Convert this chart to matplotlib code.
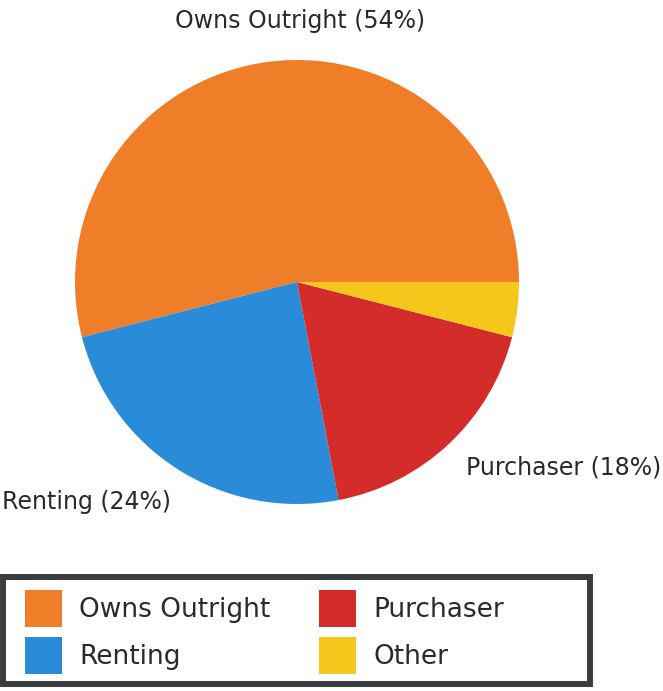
import matplotlib.pyplot as plt
from matplotlib.patches import Patch, Rectangle

# ========== DATA ========== #
categories = ["Owns Outright", "Renting", "Purchaser", "Other"]
shares = [54, 24, 18, 4]
colors = ["#F07D28", "#2A8CD8", "#D42B2B", "#F5C71A"]

# ========== FIGURE ========== #
W, H = 663, 691
fig = plt.figure(figsize=(W / 100, H / 100), dpi=100)
plt.rcParams['font.family'] = ['DejaVu Sans']

# pie centre ~ (297, 282) px, radius ~222 px
cx, cy, r = 297, 282, 222
ax = fig.add_axes([(cx - r) / W, (H - cy - r) / H, 2 * r / W, 2 * r / H])
wedges, _ = ax.pie(shares, colors=colors, startangle=0, counterclock=True,
                   wedgeprops=dict(linewidth=0))
ax.set_xlim(-1, 1)
ax.set_ylim(-1, 1)
ax.set_aspect('equal')

# slice labels (Other has none in the original)
txt_style = dict(fontsize=17, color="#2a2a2a", ha='center', va='center')
fig.text(300 / W, 1 - 21 / H, f"{categories[0]} ({shares[0]}%)", **txt_style)
fig.text(86 / W, 1 - 502 / H, f"{categories[1]} ({shares[1]}%)", **txt_style)
fig.text(564 / W, 1 - 467 / H, f"{categories[2]} ({shares[2]}%)", **txt_style)

# ========== LEGEND ========== #
handles = [Patch(facecolor=c, edgecolor='none') for c in colors]
leg = fig.legend(handles, categories, ncol=2, loc='upper left',
                 bbox_to_anchor=(25 / W, 1 - 590 / H), borderaxespad=0,
                 fontsize=19, handlelength=1.4, handleheight=1.78,
                 handletextpad=0.65, columnspacing=1.85, labelspacing=0.38,
                 borderpad=0, frameon=False)
for t in leg.get_texts():
    t.set_color('#2a2a2a')

# legend box (wider than its content, as in the original)
fig.patches.append(Rectangle((3 / W, 1 - 684 / H), 587 / W, 107 / H,
                             transform=fig.transFigure, fill=False,
                             edgecolor='#3a3d40', linewidth=4.3))

plt.savefig("out.png", dpi=100)
